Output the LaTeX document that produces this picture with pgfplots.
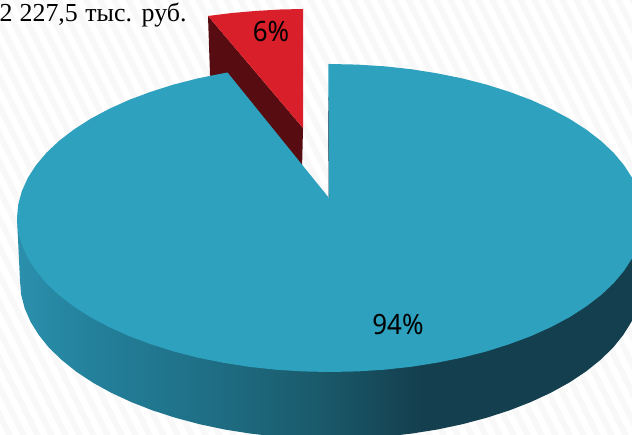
\documentclass[border=0pt]{standalone}
\usepackage{pgfplots}
\pgfplotsset{compat=1.18}
\usepackage{fontspec}
\setmainfont{Liberation Serif}
\newfontfamily\lab{Noto Sans}
\definecolor{teal1}{HTML}{2EA1BF}
\definecolor{red1}{HTML}{D9202A}
\definecolor{dark1}{HTML}{560C10}
\definecolor{stripe}{HTML}{F8F8F8}
\definecolor{w0}{HTML}{2B90AC}
\definecolor{w1}{HTML}{237F9A}
\definecolor{w2}{HTML}{1F7087}
\definecolor{w3}{HTML}{1A5A6B}
\definecolor{w4}{HTML}{143F4E}
\pgfdeclarehorizontalshading{wall}{100bp}{
 color(0bp)=(w0); color(25bp)=(w0); color(31.6bp)=(w1); color(39.6bp)=(w2);
 color(49.2bp)=(w3); color(57.2bp)=(w4); color(100bp)=(w4)}
\begin{document}
\begin{tikzpicture}[x=1bp,y=1bp]
\begin{axis}[
  at={(0bp,0bp)}, anchor=south west,
  scale only axis, width=632bp, height=435bp,
  xmin=0, xmax=632, ymin=0, ymax=435, y dir=reverse,
  hide axis, clip=true]
% background stripes
\pgfplotsinvokeforeach{-224,-210,...,640}{
  \addplot[stripe, line width=6bp, forget plot] coordinates {(#1,-5) (#1+222,440)};
}
% side wall
\addplot[draw=none, shading=wall, forget plot] coordinates {
 (17,218) (20,281) (21.2,294.8) (24.7,308.4) (30.6,321.9) (38.8,335) (49.1,347.8) (61.7,360)
 (76.2,371.6) (92.8,382.6) (111.1,392.7) (131.1,402) (152.6,410.4) (175.5,417.8) (199.6,424.2)
 (224.6,429.5) (250.5,433.6) (277,436.6) (303.9,438.4) (331,439) (358.1,438.4) (385,436.6)
 (411.5,433.6) (437.4,429.5) (462.4,424.2) (486.5,417.8) (509.4,410.4) (530.9,402) (550.9,392.7)
 (569.2,382.6) (585.8,371.6) (600.3,360) (612.9,347.8) (623.2,335) (631.4,321.9) (637.3,308.4)
 (640.8,294.8) (642,281) (643,218)};
% red slice (6 %)
\addplot[fill=dark1, draw=none, forget plot] coordinates {
 (208,16) (303,128) (302,170) (225,92) (210,75)};
\addplot[fill=red1, draw=none, forget plot] coordinates {
 (208,16) (232,13) (255,11) (280,9.5) (303,9) (303,128)};
% teal slice (94 %)
\addplot[fill=teal1, draw=none, forget plot] coordinates {
 (328.3,64) (330,64) (357.3,64.6) (384.3,66.3) (411,69.2) (437,73.3) (462.3,78.4) (486.5,84.6)
 (509.5,91.9) (531.2,100) (551.3,109.1) (569.8,119) (586.4,129.7) (601.1,141) (613.7,152.9)
 (624.1,165.3) (632.3,178.1) (638.2,191.3) (641.8,204.6) (643,218)
 (641.8,231.4) (638.2,244.7) (632.3,257.9) (624.1,270.7) (613.7,283.1) (601.1,295) (586.4,306.3)
 (569.8,317) (551.3,326.9) (531.2,336) (509.5,344.1) (486.5,351.4) (462.3,357.6) (437,362.7)
 (411,366.8) (384.3,369.7) (357.3,371.4) (330,372)
 (302.7,371.4) (275.7,369.7) (249,366.8) (223,362.7) (197.7,357.6) (173.5,351.4) (150.5,344.1)
 (128.8,336) (108.7,326.9) (90.2,317) (73.6,306.3) (58.9,295) (46.3,283.1) (35.9,270.7)
 (27.7,257.9) (21.8,244.7) (18.2,231.4) (17,218)
 (18.2,204.6) (21.8,191.3) (27.7,178.1) (35.9,165.3) (46.3,152.9) (58.9,141) (73.6,129.7)
 (90.2,119) (108.7,109.1) (128.8,100) (150.5,91.9) (173.5,84.6) (197.7,78.4) (223,73.3) (227.5,72.5)
 (329,198)};
\addplot[w4, line width=0.4bp, forget plot] coordinates {(328.5,97) (328.8,197)};
\node[font=\lab\fontsize{26}{26}\selectfont, text=black, anchor=base] at (axis cs:271,41.5) {\scalebox{1}[1.08]{6\%}};
\node[font=\lab\fontsize{26}{26}\selectfont, text=black, anchor=base] at (axis cs:398,334) {\scalebox{1}[1.08]{94\%}};
\node[font=\fontsize{26}{26}\selectfont, text=black, anchor=base west, inner sep=0pt] at (axis cs:-0.5,21.5) {2\hspace{0.5bp} 227,5\hspace{1bp} тыс.\hspace{1bp} руб.};
\end{axis}
\end{tikzpicture}
\end{document}
